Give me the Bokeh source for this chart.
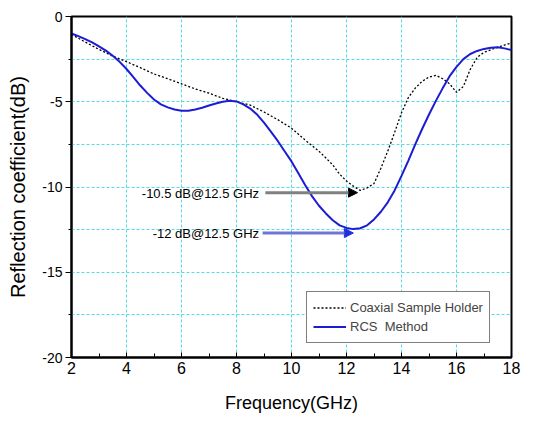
from bokeh.plotting import figure
from bokeh.models import (SingleIntervalTicker, Legend, LegendItem, Arrow, NormalHead,
                          Label, Range1d)
from bokeh.embed import file_html
from bokeh.resources import INLINE

# ---- data ----
coax_freq = [2.0, 2.5, 3.0, 3.5, 4.0, 4.5, 5.0, 5.5, 6.0, 6.5, 7.0, 7.5, 8.0, 8.5,
             9.0, 9.5, 10.0, 10.5, 11.0, 11.25, 11.5, 11.75, 12.0, 12.25, 12.5,
             12.75, 13.0, 13.25, 13.5, 13.75, 14.0, 14.25, 14.5, 14.75, 15.0, 15.25,
             15.5, 15.75, 16.0, 16.25, 16.5, 16.75, 17.0, 17.5, 18.0]
coax_db = [-1.05, -1.5, -1.93, -2.32, -2.65, -3.0, -3.37, -3.65, -3.95, -4.25, -4.5, -4.8,
           -5.0, -5.2, -5.6, -6.05, -6.55, -7.25, -7.9, -8.3, -8.7, -9.25, -9.65, -9.95,
           -10.2, -10.05, -9.8, -8.9, -7.9, -6.8, -5.65, -4.75, -4.2, -3.8, -3.55,
           -3.45, -3.65, -3.95, -4.45, -4.1, -3.1, -2.4, -2.1, -1.8, -1.55]

rcs_freq = [2.0, 2.25, 2.5, 2.75, 3.0, 3.25, 3.5, 3.75, 4.0, 4.25, 4.5, 4.75, 5.0, 5.25,
            5.5, 5.75, 6.0, 6.25, 6.5, 6.75, 7.0, 7.25, 7.5, 7.75, 8.0, 8.25, 8.5, 8.75,
            9.0, 9.25, 9.5, 9.75, 10.0, 10.25, 10.5, 10.75, 11.0, 11.25, 11.5, 11.75,
            12.0, 12.25, 12.5, 12.75, 13.0, 13.25, 13.5, 13.75, 14.0, 14.25, 14.5, 14.75,
            15.0, 15.25, 15.5, 15.75, 16.0, 16.25, 16.5, 16.75, 17.0, 17.25, 17.5, 17.75,
            18.0]
rcs_db = [-1.0, -1.15, -1.33, -1.52, -1.75, -2.0, -2.3, -2.66, -3.08, -3.56, -4.05, -4.48,
          -4.87, -5.15, -5.33, -5.45, -5.53, -5.53, -5.45, -5.35, -5.22, -5.1, -5.0, -4.94,
          -4.98, -5.15, -5.4, -5.75, -6.22, -6.75, -7.3, -7.9, -8.5, -9.2, -9.9, -10.55,
          -11.1, -11.55, -11.95, -12.25, -12.4, -12.47, -12.42, -12.25, -11.9, -11.45,
          -10.9, -10.2, -9.35, -8.45, -7.5, -6.6, -5.75, -4.95, -4.2, -3.5, -2.95, -2.5,
          -2.2, -2.02, -1.9, -1.83, -1.8, -1.87, -1.97]

annot_texts = ["-10.5 dB@12.5 GHz", "-12 dB@12.5 GHz"]
annot_text_freq = [8.82, 8.82]
annot_text_db = [-10.4, -12.75]
arrow_start_freq = [9.05, 8.95]
arrow_end_freq = [12.4, 12.25]
arrow_db = [-10.33, -12.7]

x_tick_labels = {v: str(v) for v in range(2, 19, 2)}
y_tick_labels = {0: "0", -5: "-5", -10: "-10", -15: "-15", -20: "-20"}

FONT = "Liberation Sans"
GRID = "#55dde3"

p = figure(frame_width=440, frame_height=341, output_backend="svg", toolbar_location=None,
           x_range=Range1d(2, 18), y_range=Range1d(-20, 0),
           min_border_left=71, min_border_right=16, min_border_top=16, min_border_bottom=60,
           background_fill_color="white", border_fill_color="white")

p.outline_line_color = "black"
p.outline_line_width = 2

xt = SingleIntervalTicker(interval=2, num_minor_ticks=2)
yt = SingleIntervalTicker(interval=5, num_minor_ticks=2)
p.xaxis.ticker = xt
p.yaxis.ticker = yt
p.xgrid.ticker = SingleIntervalTicker(interval=2)
p.ygrid.ticker = SingleIntervalTicker(interval=2.5)
for g in (p.xgrid, p.ygrid):
    g.grid_line_color = GRID
    g.grid_line_dash = "3 2"
    g.grid_line_width = 1

p.xaxis.major_label_overrides = x_tick_labels
p.yaxis.major_label_overrides = y_tick_labels

for ax in (p.xaxis, p.yaxis):
    ax.axis_line_color = "black"
    ax.axis_line_width = 2
    ax.major_tick_line_color = "black"
    ax.minor_tick_line_color = "black"
    ax.major_label_text_font = FONT
    ax.major_label_text_color = "black"
    ax.axis_label_text_font = FONT
    ax.axis_label_text_font_style = "normal"
    ax.axis_label_text_color = "black"

p.xaxis.major_tick_in = 5
p.xaxis.major_tick_out = 0
p.xaxis.minor_tick_in = 4
p.xaxis.minor_tick_out = 0
p.xaxis.major_label_text_font_size = "16px"
p.xaxis.major_label_standoff = 4
p.xaxis.axis_label = "Frequency(GHz)"
p.xaxis.axis_label_text_font_size = "18px"
p.xaxis.axis_label_standoff = 16

p.yaxis.major_tick_in = 0
p.yaxis.major_tick_out = 6
p.yaxis.minor_tick_in = 0
p.yaxis.minor_tick_out = 3
p.yaxis.major_label_text_font_size = "14px"
p.yaxis.major_label_standoff = 3
p.yaxis.axis_label = "Reflection coefficient(dB)"
p.yaxis.axis_label_text_font_size = "20px"
p.yaxis.axis_label_standoff = 10

r_coax = p.line(coax_freq, coax_db, line_color="black", line_width=1.3, line_dash="2 2")
r_rcs = p.line(rcs_freq, rcs_db, line_color="#1c1cd4", line_width=2)

# annotations
arrow_line_colors = ["#808080", "#6f74d6"]
arrow_head_colors = ["black", "#1f2fe0"]
for i in range(2):
    p.add_layout(Arrow(end=NormalHead(size=9, fill_color=arrow_head_colors[i],
                                      line_color=arrow_head_colors[i]),
                       x_start=arrow_start_freq[i], y_start=arrow_db[i],
                       x_end=arrow_end_freq[i], y_end=arrow_db[i],
                       line_color=arrow_line_colors[i], line_width=3))
    p.add_layout(Label(x=annot_text_freq[i], y=annot_text_db[i], text=annot_texts[i],
                       text_align="right", text_baseline="middle",
                       text_font=FONT, text_font_size="13px", text_color="black"))

legend = Legend(items=[LegendItem(label="Coaxial Sample Holder", renderers=[r_coax]),
                       LegendItem(label="RCS  Method", renderers=[r_rcs])],
                location=(235, 14), margin=0, padding=6, spacing=0,
                label_height=19, glyph_height=19, glyph_width=33, label_standoff=4,
                label_text_font=FONT, label_text_font_size="13px",
                border_line_color="black", border_line_width=1,
                background_fill_color="white", background_fill_alpha=1)
p.add_layout(legend)

open("out.html", "w").write(file_html(p, INLINE))
